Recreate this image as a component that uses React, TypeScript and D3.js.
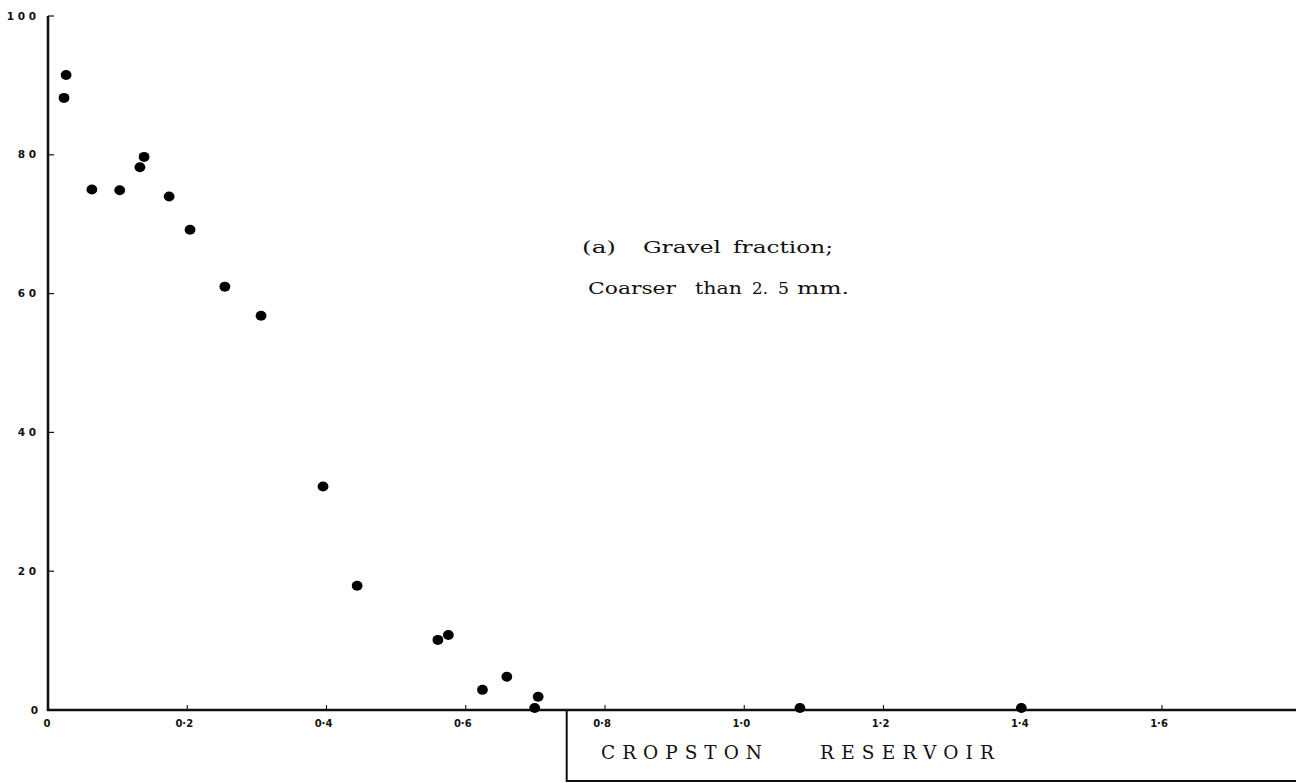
import React from "react";
import * as d3 from "d3";

const W = 1296;
const H = 783;

// distance (x) and percentage gravel (y)
const xValues = [0.023, 0.026, 0.063, 0.103, 0.132, 0.138, 0.174, 0.204, 0.254, 0.306, 0.395, 0.444, 0.560, 0.575, 0.624, 0.659, 0.699, 0.704, 1.080, 1.398];
const yValues = [88.2, 91.5, 75.0, 74.9, 78.2, 79.7, 74.0, 69.2, 61.0, 56.8, 32.2, 17.9, 10.1, 10.8, 2.9, 4.8, 0.3, 1.9, 0.3, 0.3];

const xTicks = [0, 0.2, 0.4, 0.6, 0.8, 1.0, 1.2, 1.4, 1.6];
const xTickLabels = ["0", "0·2", "0·4", "0·6", "0·8", "1·0", "1·2", "1·4", "1·6"];
const yTicks = [0, 20, 40, 60, 80, 100];
const yTickLabels = ["0", "2 0", "4 0", "6 0", "8 0", "1 0 0"];

const annotationLine1 = ["(a)", "Gravel", "fraction;"];
const annotationLine2 = ["Coarser", "than", "2.", "5", "mm."];
const boxWords = ["CROPSTON", "RESERVOIR"];

// word layout (left x, width) in pixels
const line1Layout = [[582, 34], [643, 78], [733, 100]];
const line2Layout = [[588, 88], [695, 47], [752, 16], [778, 11], [797, 52]];
const boxLayout = [[601, 161], [820, 174]];

export default function App() {
  const x = d3.scaleLinear().domain([0, 1.6]).range([48, 1162]);
  const y = d3.scaleLinear().domain([0, 100]).range([710, 16]);
  const x0 = x(0);
  const y0 = y(0);
  const tickFont = "'DejaVu Sans', sans-serif";
  const serif = "'DejaVu Serif', serif";
  return (
    <svg
      width={W}
      height={H}
      style={{ position: "absolute", left: 0, top: 0, background: "#fff" }}
    >
      <rect x={0} y={0} width={W} height={H} fill="#fff" />
      {/* y axis */}
      <line x1={x0} y1={y(100)} x2={x0} y2={y0 + 1} stroke="#111" strokeWidth={2.6} />
      {yTicks.map((t, i) => (
        <g key={"yt" + i}>
          {t !== 0 && (
            <line x1={x0} x2={x0 + 6} y1={y(t)} y2={y(t)} stroke="#111" strokeWidth={1.2} />
          )}
          <text
            x={i === 0 ? 38 : 36}
            y={y(t)}
            dy="0.35em"
            textAnchor="end"
            fontFamily={tickFont}
            fontSize={10.5}
            fontWeight={600}
            fill="#111"
            style={{ whiteSpace: "pre" }}
          >
            {yTickLabels[i]}
          </text>
        </g>
      ))}
      {/* x axis */}
      <line x1={x0 - 1} y1={y0} x2={W} y2={y0} stroke="#111" strokeWidth={2.6} />
      {xTicks.map((t, i) => (
        <g key={"xt" + i}>
          {t !== 0 && (
            <line x1={x(t)} x2={x(t)} y1={y0} y2={y0 - 5} stroke="#111" strokeWidth={1.1} />
          )}
          <text
            x={x(t) - (t === 0 ? 1 : 3)}
            y={y0 + 17}
            textAnchor="middle"
            fontFamily={tickFont}
            fontSize={10}
            fontWeight={600}
            fill="#111"
          >
            {xTickLabels[i]}
          </text>
        </g>
      ))}
      {/* box */}
      <path
        d={`M${x(0.745)},${y0} V${y0 + 71} H${W}`}
        fill="none"
        stroke="#111"
        strokeWidth={2}
      />
      {boxWords.map((w, i) => (
        <text
          key={"bw" + i}
          x={boxLayout[i][0]}
          y={759}
          fontFamily={serif}
          fontSize={18.5}
          fill="#111"
          textLength={boxLayout[i][1]}
          lengthAdjust="spacing"
        >
          {w}
        </text>
      ))}
      {/* annotation */}
      {annotationLine1.map((w, i) => (
        <text
          key={"a1" + i}
          x={line1Layout[i][0]}
          y={253}
          fontFamily={serif}
          fontSize={17}
          fill="#111"
          textLength={line1Layout[i][1]}
          lengthAdjust="spacingAndGlyphs"
        >
          {w}
        </text>
      ))}
      {annotationLine2.map((w, i) => (
        <text
          key={"a2" + i}
          x={line2Layout[i][0]}
          y={294}
          fontFamily={serif}
          fontSize={17}
          fill="#111"
          textLength={line2Layout[i][1]}
          lengthAdjust="spacingAndGlyphs"
        >
          {w}
        </text>
      ))}
      {/* points */}
      {xValues.map((v, i) => (
        <ellipse key={"p" + i} cx={x(v)} cy={y(yValues[i])} rx={5.4} ry={5} fill="#000" />
      ))}
    </svg>
  );
}
